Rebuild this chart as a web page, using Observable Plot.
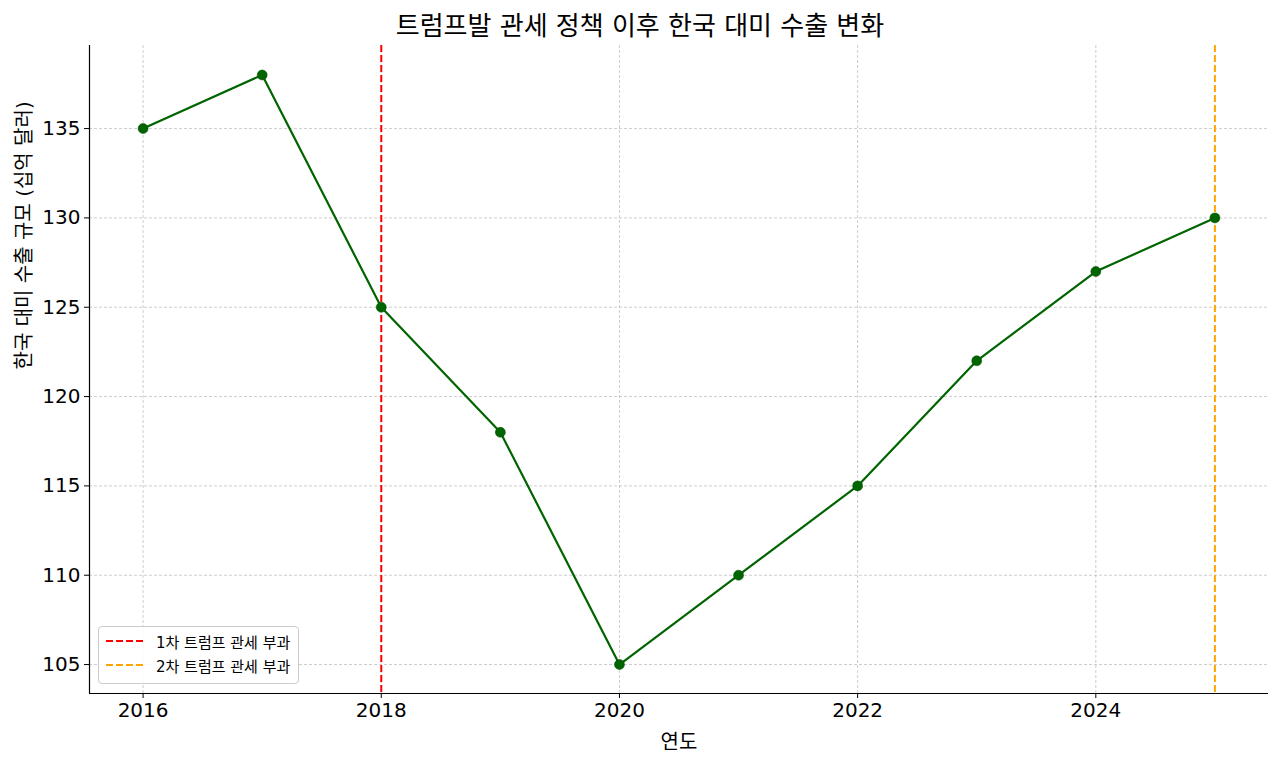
<!DOCTYPE html>
<html><head><meta charset="utf-8">
<script src="https://cdn.jsdelivr.net/npm/d3@7"></script>
<script src="https://cdn.jsdelivr.net/npm/@observablehq/plot@0.6"></script>
<style>
body{margin:0;background:#fff;font-family:"DejaVu Sans","Noto Sans CJK KR",sans-serif;}
#wrap{position:relative;width:1280px;height:763px;}
#title{height:45px;line-height:52px;text-align:center;font-size:26px;color:#000;}
#legend{position:absolute;left:98px;top:626px;height:56px;padding-right:8px;border:1px solid #ccc;border-radius:4px;background:rgba(255,255,255,0.85);font-size:15px;white-space:nowrap;min-width:177px;}
.li{position:relative;margin-left:7px;height:20px;margin-top:4px;display:flex;align-items:center;}
.li svg{margin-right:12px}
</style></head><body>
<div id="wrap"><div id="title"></div><div id="chart"></div><div id="legend"></div></div>
<script>
const years = [2016, 2017, 2018, 2019, 2020, 2021, 2022, 2023, 2024, 2025];
const values = [135, 138, 125, 118, 105, 110, 115, 122, 127, 130];
const eventYears = [2018, 2025];
const eventLabels = ["1차 트럼프 관세 부과", "2차 트럼프 관세 부과"];
const eventColors = ["red", "orange"];
const xTicks = [2016, 2018, 2020, 2022, 2024];
const yTicks = [105, 110, 115, 120, 125, 130, 135];
const titleText = "트럼프발 관세 정책 이후 한국 대미 수출 변화";
const xLabel = "연도";
const yLabel = "한국 대미 수출 규모 (십억 달러)";

document.getElementById("title").textContent = titleText;
const data = years.map((y, i) => ({year: y, value: values[i]}));
const events = eventYears.map((y, i) => ({year: y, label: eventLabels[i], color: eventColors[i]}));

const plot = Plot.plot({
  width: 1280, height: 718,
  marginTop: 0, marginLeft: 89, marginRight: 12, marginBottom: 70,
  style: {fontFamily: '"DejaVu Sans","Noto Sans CJK KR",sans-serif', fontSize: "20px", color: "#000", background: "#fff"},
  x: {domain: [2015.55, 2025.45], ticks: xTicks, tickFormat: d => String(d), label: null},
  y: {domain: [103.38, 139.65], ticks: yTicks, label: null},
  marks: [
    Plot.gridX(xTicks, {stroke: "#b0b0b0", strokeOpacity: 0.8, strokeDasharray: "3,2", strokeWidth: 0.8}),
    Plot.gridY(yTicks, {stroke: "#b0b0b0", strokeOpacity: 0.8, strokeDasharray: "3,2", strokeWidth: 0.8}),
    Plot.ruleX(events, {x: "year", stroke: "color", strokeWidth: 2, strokeDasharray: "7,3"}),
    Plot.line(data, {x: "year", y: "value", stroke: "#006400", strokeWidth: 2.2}),
    Plot.dot(data, {x: "year", y: "value", fill: "#006400", r: 5, stroke: "#004d00", strokeWidth: 0.5}),
    Plot.axisX({ticks: xTicks, tickFormat: d => String(d), tickSize: 5, tickPadding: 4, label: null, fontSize: 20}),
    Plot.axisY({ticks: yTicks, tickSize: 5, tickPadding: 4, label: null, fontSize: 20}),
    Plot.ruleY([103.38], {stroke: "#000", strokeWidth: 1.2}),
    Plot.ruleX([2015.55], {stroke: "#000", strokeWidth: 1.2}),
    Plot.text([xLabel], {frameAnchor: "bottom", dy: 55, text: d => d, fontSize: 20, fill: "#000"}),
    Plot.text([yLabel], {frameAnchor: "left", dx: -65, rotate: -90, text: d => d, fontSize: 20, fill: "#000"})
  ]
});
document.getElementById("chart").appendChild(plot);

const lg = document.getElementById("legend");
events.forEach((e, i) => {
  const d = document.createElement("div");
  d.className = "li";
  d.innerHTML = `<svg width="38" height="4"><line x1="0" y1="2" x2="38" y2="2" stroke="${e.color}" stroke-width="2" stroke-dasharray="7,3"/></svg>`;
  const s = document.createElement("span");
  s.textContent = e.label;
  d.appendChild(s);
  lg.appendChild(d);
});
</script></body></html>
